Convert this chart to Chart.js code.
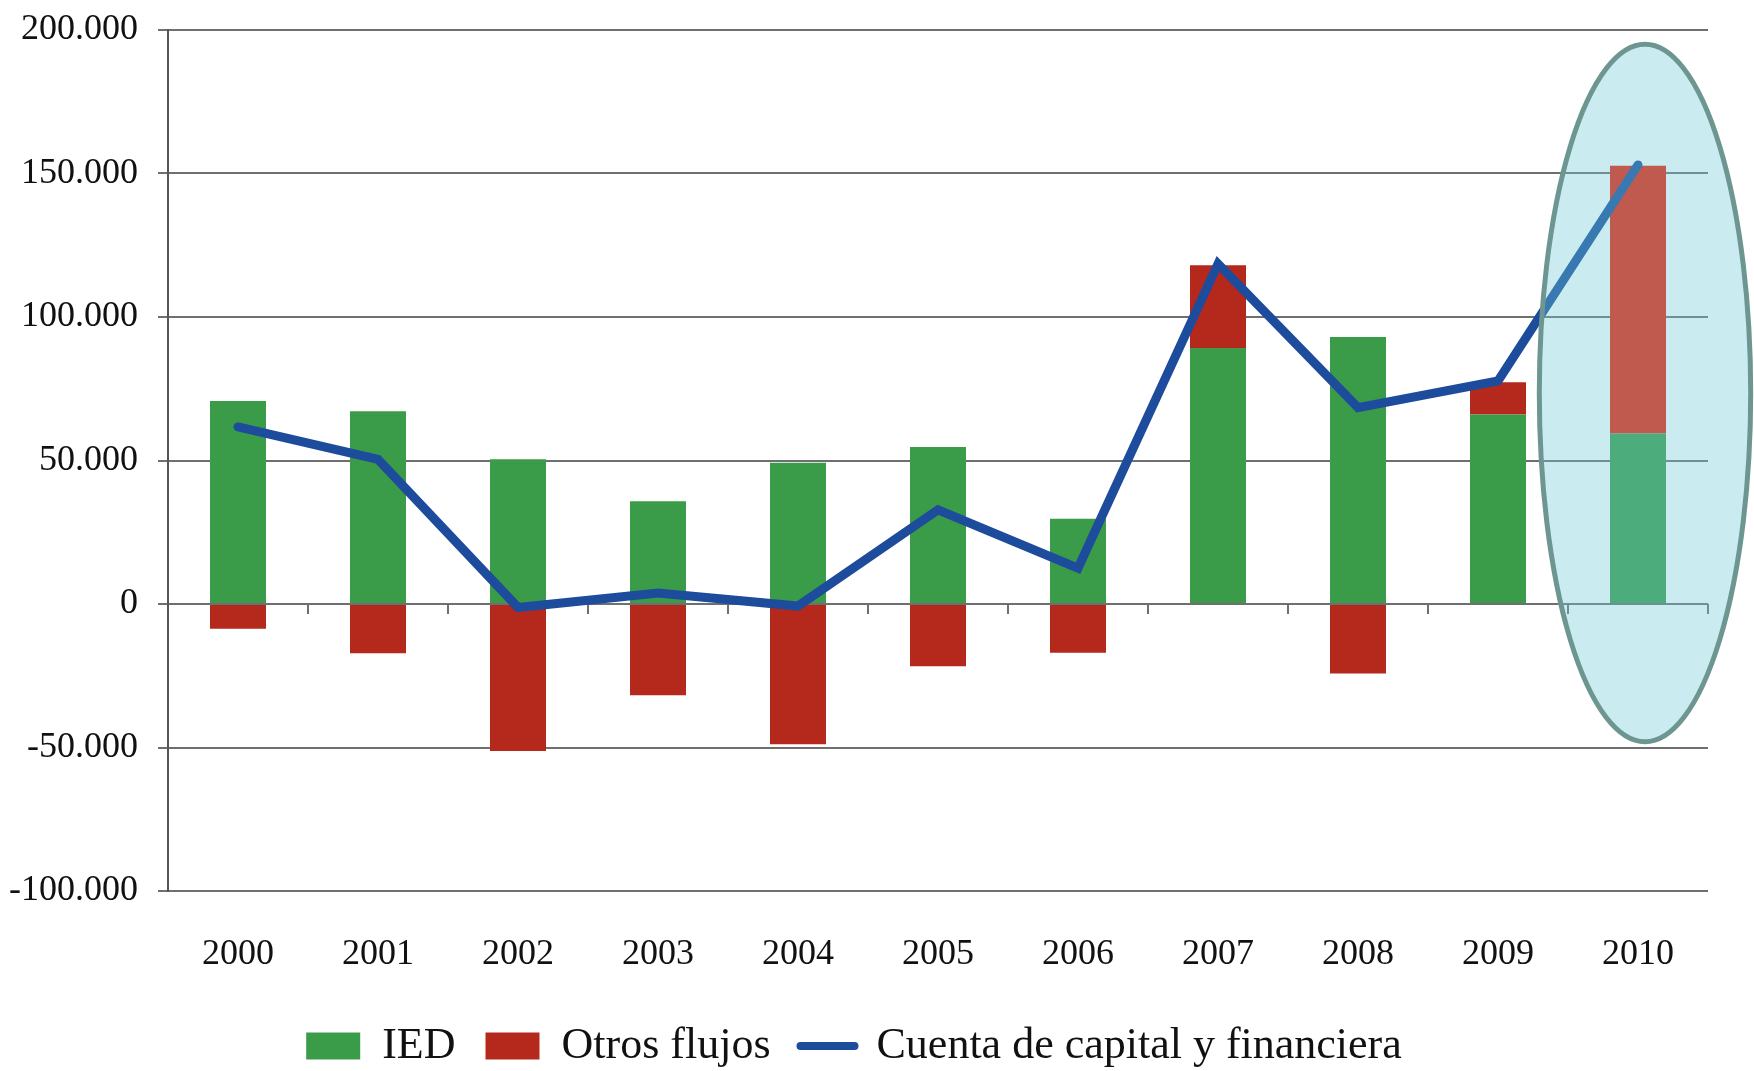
<!DOCTYPE html>
<html lang="es">
<head>
<meta charset="utf-8">
<title>IED, otros flujos y cuenta de capital y financiera</title>
<script src="https://cdn.jsdelivr.net/npm/chart.js@4.4.1/dist/chart.umd.min.js"></script>
<style>
    html, body { margin: 0; padding: 0; background: #ffffff; }
    #wrap { width: 1754px; height: 1071px; }
</style>
</head>
<body>
<div id="wrap"><canvas id="chart"></canvas></div>
<script>
const years = ['2000', '2001', '2002', '2003', '2004', '2005', '2006', '2007', '2008', '2009', '2010'];
const ied = [70700, 67200, 50400, 35800, 49200, 54700, 29700, 89200, 93000, 66000, 59400];
const otrosFlujos = [-8600, -17200, -51200, -31800, -48900, -21700, -17000, 28800, -24200, 11300, 93300];
const cuentaCapital = [61700, 50400, -1200, 3800, -700, 32800, 12500, 118500, 68400, 77700, 153000];
const yTicks = [-100000, -50000, 0, 50000, 100000, 150000, 200000];

const verde = '#3a9b48';
const rojo = '#b5281c';
const azul = '#1d4c9c';
const gris = '#6f6f6f';

function formatoMiles(v) {
    const s = Math.abs(v).toString().replace(/\B(?=(\d{3})+(?!\d))/g, '.');
    return (v < 0 ? '-' : '') + s;
}

// elipse que resalta el ultimo año
const resaltado = {
    id: 'resaltado',
    afterDatasetsDraw(chart) {
        const { ctx, scales: { x, y } } = chart;
        const ancho = x.width / years.length;
        const cx = x.getPixelForValue(years.length - 1) + 0.05 * ancho;
        const top = y.getPixelForValue(195000);
        const bottom = y.getPixelForValue(-48000);
        const ry = (bottom - top) / 2;
        const rx = 0.755 * ancho;
        ctx.save();
        ctx.beginPath();
        ctx.ellipse(cx, top + ry, rx, ry, 0, 0, 2 * Math.PI);
        ctx.fillStyle = 'rgba(109, 201, 217, 0.36)';
        ctx.fill();
        ctx.lineWidth = 5;
        ctx.strokeStyle = '#6e9691';
        ctx.stroke();
        ctx.restore();
    }
};

Chart.defaults.font.family = '"Liberation Serif", "Times New Roman", serif';
Chart.defaults.color = '#111111';

new Chart(document.getElementById('chart'), {
    type: 'bar',
    data: {
        labels: years,
        datasets: [
            {
                label: 'IED',
                data: ied,
                backgroundColor: verde,
                stack: 'flujos',
                order: 1,
                barPercentage: 0.4,
                categoryPercentage: 1
            },
            {
                label: 'Otros flujos',
                data: otrosFlujos,
                backgroundColor: c => c.dataIndex === years.length - 1 ? '#f01a00' : rojo,
                stack: 'flujos',
                order: 1,
                barPercentage: 0.4,
                categoryPercentage: 1
            },
            {
                type: 'line',
                label: 'Cuenta de capital y financiera',
                data: cuentaCapital,
                borderColor: azul,
                backgroundColor: azul,
                borderWidth: 9,
                pointRadius: 0,
                tension: 0,
                fill: false,
                borderCapStyle: 'round',
                stack: 'linea',
                order: 0
            }
        ]
    },
    options: {
        responsive: true,
        maintainAspectRatio: false,
        animation: false,
        layout: { padding: { left: 0, right: 46, top: 0, bottom: -7 } },
        scales: {
            x: {
                stacked: true,
                grid: { display: false },
                border: { display: false },
                ticks: { padding: 34, font: { size: 36 } },
                afterFit: scale => { scale.height = 103; }
            },
            x2: {
                type: 'category',
                labels: years,
                position: { y: 0 },
                offset: true,
                grid: { offset: true, drawOnChartArea: false, tickLength: 10, color: gris, lineWidth: 2 },
                border: { display: false },
                ticks: { display: false }
            },
            y: {
                stacked: true,
                min: -100000,
                max: 200000,
                afterBuildTicks: scale => { scale.ticks = yTicks.map(v => ({ value: v })); },
                afterFit: scale => {
                    scale.width = 168;
                    scale.paddingTop = 30;
                    scale.paddingBottom = 0;
                },
                grid: { color: gris, lineWidth: 2, tickLength: 10 },
                border: { display: true, color: '#555555', width: 2 },
                ticks: {
                    padding: 20,
                    font: { size: 36 },
                    callback: v => formatoMiles(v)
                }
            }
        },
        plugins: {
            tooltip: { enabled: false },
            legend: {
                position: 'bottom',
                labels: {
                    font: { size: 44 },
                    padding: 30,
                    usePointStyle: true,
                    pointStyleWidth: 54,
                    boxHeight: 27,
                    sort: (a, b) => a.datasetIndex - b.datasetIndex,
                    generateLabels(chart) {
                        const items = Chart.defaults.plugins.legend.labels.generateLabels(chart);
                        items.forEach(item => {
                            const ds = chart.data.datasets[item.datasetIndex];
                            if (ds.type === 'line') {
                                item.pointStyle = 'line';
                                item.lineWidth = 8;
                                item.strokeStyle = azul;
                                item.lineCap = 'round';
                            } else {
                                item.pointStyle = 'rect';
                                item.lineWidth = 0;
                                item.fillStyle = item.datasetIndex === 0 ? verde : rojo;
                            }
                        });
                        return items;
                    }
                }
            }
        }
    },
    plugins: [resaltado]
});
</script>
</body>
</html>
